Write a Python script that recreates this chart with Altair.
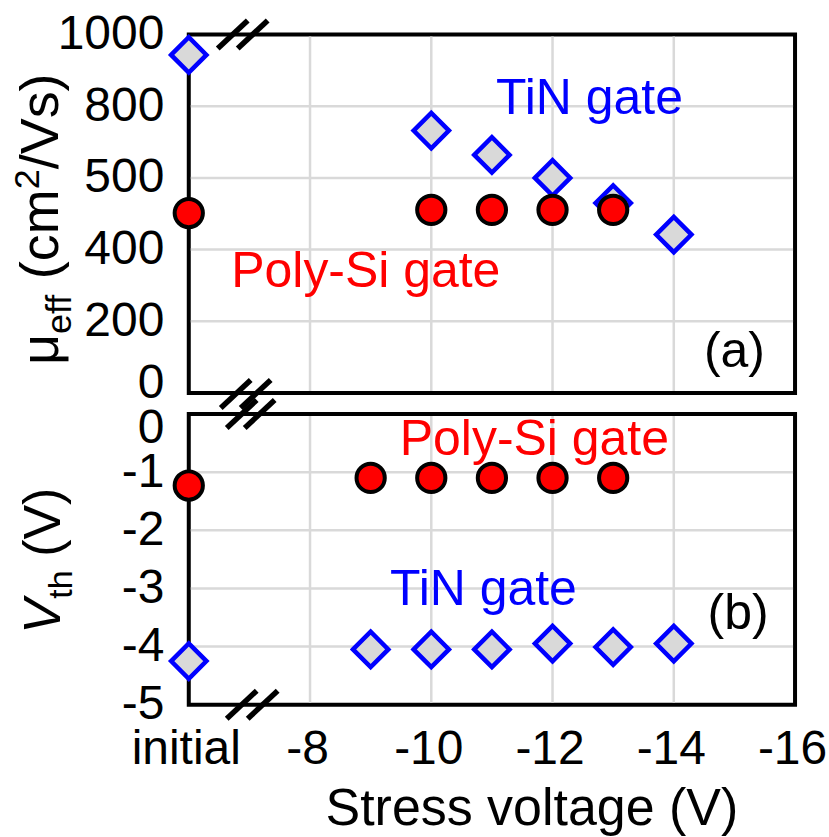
import altair as alt
import pandas as pd

FONT = "Liberation Sans"
BLUE = "#0000ff"
RED = "#ff0000"
GREY = "#d9d9d9"

# ---------------- data ----------------
# stress voltage (V); the value -6 is the "initial" (unstressed) position
top_tin_x = [-6, -10, -11, -12, -13, -14]
top_tin_mu = [943, 732, 664, 600, 530, 442]
top_poly_x = [-6, -10, -11, -12, -13]
top_poly_mu = [502, 511, 511, 511, 511]

bot_poly_x = [-6, -9, -10, -11, -12, -13]
bot_poly_vth = [-1.23, -1.10, -1.10, -1.10, -1.10, -1.10]
bot_tin_x = [-6, -9, -10, -11, -12, -13, -14]
bot_tin_vth = [-4.25, -4.05, -4.05, -4.05, -3.95, -4.01, -3.95]

x_ticks = [-6, -8, -10, -12, -14, -16]
x_grid = [-8, -10, -12, -14]
top_y_ticks = [0, 200, 400, 600, 800, 1000]
top_y_grid = [200, 400, 600, 800]
bot_y_ticks = [0, -1, -2, -3, -4, -5]
bot_y_grid = [-1, -2, -3, -4]

# annotations (in data units)
top_ann_text = ["TiN gate", "Poly-Si gate", "(a)"]
top_ann_x = [-12.61, -8.92, -15.0]
top_ann_y = [779, 297, 72]
bot_ann_text = ["Poly-Si gate", "TiN gate", "(b)"]
bot_ann_x = [-11.7, -10.86, -15.06]
bot_ann_y = [-0.70, -3.28, -3.69]
ann_colors = {"TiN gate": BLUE, "Poly-Si gate": RED, "(a)": "black", "(b)": "black"}

# ---------------- layout ----------------
W, H1, H2 = 607, 359, 291

xs = alt.Scale(domain=[-16, -6], reverse=True, nice=False, zero=False)
ys_top = alt.Scale(domain=[0, 1000], nice=False, zero=False)
ys_bot = alt.Scale(domain=[-5, 0], nice=False, zero=False)

lab = dict(grid=False, ticks=False, tickSize=0, domain=False, labelFont=FONT,
           labelFontSize=48, labelColor="black", labelFlush=False, labelOverlap=False)

X_top = alt.X("x:Q", scale=xs, axis=None)
Y_top = alt.Y("y:Q", scale=ys_top, axis=alt.Axis(
    values=top_y_ticks, labelExpr="datum.value == 600 ? '500' : '' + datum.value",
    labelOffset={"condition": {"test": "datum.value == 0", "value": -10}, "value": 0},
    labelPadding=25, title=None, **lab))
X_bot = alt.X("x:Q", scale=xs, axis=alt.Axis(
    values=x_ticks, labelExpr="datum.value == -6 ? 'initial' : '-' + abs(datum.value)",
    labelOffset=-3, labelPadding=21, title="Stress voltage (V)", titleFont=FONT, titleFontSize=52,
    titleFontWeight="normal", titleColor="black", titleX=343, titleY=120,
    titleBaseline="alphabetic", titleAlign="center", **lab))
Y_bot = alt.Y("y:Q", scale=ys_bot, axis=alt.Axis(
    values=bot_y_ticks, labelExpr="datum.value == 0 ? '0' : '-' + abs(datum.value)",
    labelOffset={"condition": {"test": "datum.value == 0", "value": 15}, "value": 0},
    labelPadding=25, title=None, **lab))

one = pd.DataFrame({"a": [0]})


def slashes(centers):
    out = []
    for cx, cy in centers:
        out.append(alt.Chart(one).mark_rule(color="black", strokeWidth=5.5, strokeCap="butt").encode(
            x=alt.value(cx - 15), x2=alt.value(cx + 15), y=alt.value(cy + 14), y2=alt.value(cy - 14)))
    return out


def txt(s, x, y, size, style="normal"):
    return alt.Chart(one).mark_text(text=s, angle=270, align="left", baseline="alphabetic",
                                    font=FONT, fontSize=size, fontStyle=style, color="black").encode(
        x=alt.value(x), y=alt.value(y))


def panel(X, Y, h, tin_x, tin_y, poly_x, poly_y, ygrid, ann_t, ann_x, ann_y):
    gx = alt.Chart(pd.DataFrame({"x": x_grid})).mark_rule(color=GREY, strokeWidth=2.5).encode(
        x=X, y=alt.value(2), y2=alt.value(h - 2))
    gy = alt.Chart(pd.DataFrame({"y": ygrid})).mark_rule(color=GREY, strokeWidth=2.5).encode(
        y=Y, x=alt.value(2), x2=alt.value(W - 2))
    tin = alt.Chart(pd.DataFrame({"x": tin_x, "y": tin_y})).mark_point(
        shape="diamond", size=1250, filled=True, fill=GREY, stroke=BLUE, strokeWidth=4.5,
        opacity=1, fillOpacity=1, strokeOpacity=1).encode(x=X, y=Y)
    poly = alt.Chart(pd.DataFrame({"x": poly_x, "y": poly_y})).mark_circle(
        size=800, fill=RED, stroke="black", strokeWidth=4, opacity=1, fillOpacity=1).encode(x=X, y=Y)
    anns = []
    for t, ax, ay in zip(ann_t, ann_x, ann_y):
        anns.append(alt.Chart(pd.DataFrame({"x": [ax], "y": [ay], "t": [t]})).mark_text(
            font=FONT, fontSize=50, color=ann_colors[t], align="center", baseline="alphabetic").encode(
            x=X, y=Y, text="t:N"))
    return [gx, gy, tin, poly] + anns


# ---- top panel (a) ----
top_layers = panel(X_top, Y_top, H1, top_tin_x, top_tin_mu, top_poly_x, top_poly_mu,
                   top_y_grid, top_ann_text, top_ann_x, top_ann_y)
anchor = alt.Chart(one).mark_rule(opacity=0, strokeWidth=0).encode(
    x=alt.value(-187), x2=alt.value(-186), y=alt.value(-32), y2=alt.value(-32))
top_layers += slashes([(44, 0), (64, 0), (47, 360), (67, 360)])
top_layers += [txt("μ", -131, 331, 54), txt("eff", -118, 300, 36),
               txt("(cm", -131, 245, 54), txt("2", -150, 155, 36), txt("/Vs)", -131, 135, 54), anchor]
top = alt.layer(*top_layers).properties(width=W, height=H1)

# ---- bottom panel (b) ----
bot_layers = panel(X_bot, Y_bot, H2, bot_tin_x, bot_tin_vth, bot_poly_x, bot_poly_vth,
                   bot_y_grid, bot_ann_text, bot_ann_x, bot_ann_y)
bot_layers += slashes([(53, 0), (71, 0), (53, 291), (74, 291)])
bot_layers += [txt("V", -129, 220, 52, "italic"), txt("th", -117, 185, 34), txt("(V)", -129, 143, 52)]
bottom = alt.layer(*bot_layers).properties(width=W, height=H2)

chart = alt.vconcat(top, bottom, spacing=21, bounds="flush").properties(
    padding=0, background="white").configure_view(stroke="black", strokeWidth=4)

chart.save("out.html", embed_options={"renderer": "svg", "actions": False})
